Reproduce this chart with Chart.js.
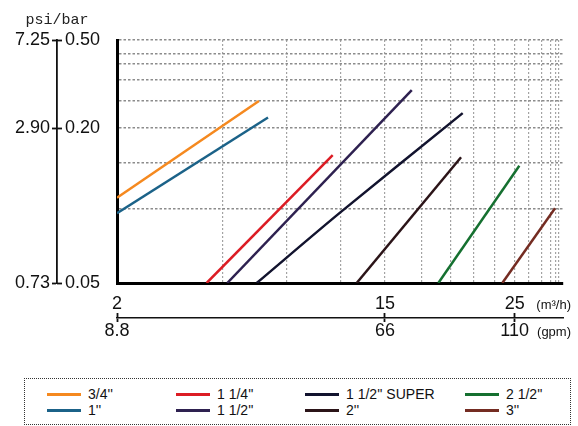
<!DOCTYPE html>
<html>
<head>
<meta charset="utf-8">
<script src="https://cdn.jsdelivr.net/npm/chart.js"></script>
<style>
  html, body { margin: 0; padding: 0; background: #ffffff; }
  #wrap { position: absolute; left: 0; top: 0; width: 578px; height: 372px; }
  #legend {
    position: absolute; left: 24px; top: 378px; width: 547px;
    border: 1.5px dotted #333;
    display: grid; grid-template-rows: 16px 16px; grid-auto-flow: column;
    grid-template-columns: 129px 129px 160px 1fr;
    padding: 7px 0 0 22px; box-sizing: border-box; height: 47px;
    font-family: "Liberation Sans", Arial, sans-serif; font-size: 14px; color: #111;
  }
  #legend .item { display: flex; align-items: center; white-space: nowrap; }
  #legend .sw { display: inline-block; width: 34px; height: 3px; margin-right: 7px; }
</style>
</head>
<body>
<div id="wrap"><canvas id="c"></canvas></div>
<div id="legend"></div>
<script>
// ---- data (flow in m³/h, pressure loss in bar) ----
const sizeNames = ["3/4''", "1''", "1 1/4''", "1 1/2''", "1 1/2'' SUPER", "2''", "2 1/2''", "3''"];
const sizeColors = ["#f5891f", "#1b6288", "#dc1c24", "#2e2150", "#12132e", "#2b1418", "#157030", "#742c22"];

const flow34 = [2, 7.54];        const loss34 = [0.104, 0.262];
const flow1 = [2, 8.0];          const loss1 = [0.0905, 0.222];
const flow114 = [5.13, 11.63];   const loss114 = [0.05, 0.154];
const flow112 = [6.03, 16.88];   const loss112 = [0.05, 0.293];
const flowSuper = [7.43, 12.08, 20.72]; const lossSuper = [0.05, 0.091, 0.232];
const flow2 = [13.13, 20.59];    const loss2 = [0.05, 0.151];
const flow212 = [18.84, 25.40];  const loss212 = [0.05, 0.1395];
const flow3 = [23.95, 28.57];    const loss3 = [0.05, 0.0946];

const seriesFlow = [flow34, flow1, flow114, flow112, flowSuper, flow2, flow212, flow3];
const seriesLoss = [loss34, loss1, loss114, loss112, lossSuper, loss2, loss212, loss3];

// ---- ticks / grid ----
const flowTicks = [2, 15, 25];
const gpmTicks = [8.8, 66, 110];
const barTicks = [0.05, 0.2, 0.5];
const barLabels = ["0.05", "0.20", "0.50"];
const psiTicks = [0.725, 2.9, 7.25];
const psiLabels = ["0.73", "2.90", "7.25"];
const gridFlow = [5.8, 9.0, 12.1, 15, 17.6, 19.8, 21.6, 23.3, 25, 26.2, 27.4, 28.2, 28.65, 28.9];
const gridLoss = [0.094, 0.143, 0.2, 0.263, 0.325, 0.388, 0.432, 0.5];
const flowRange = [2, 29.3];
const lossRange = [0.05, 0.5];
const unitFlow = "(m\u00b3/h)";
const unitGpm = "(gpm)";
const yTitle = "psi/bar";

// ---- power scale (chart's nonlinear axes) ----
class PowScale extends Chart.LinearScale {
  _t(v) { const p = this.options.exponent; return p === 0 ? Math.log(v) : (p > 0 ? Math.pow(v, p) : -Math.pow(v, p)); }
  _ti(t) { const p = this.options.exponent; return p === 0 ? Math.exp(t) : (p > 0 ? Math.pow(t, 1 / p) : Math.pow(-t, 1 / p)); }
  getPixelForValue(value) {
    if (value === null || value === undefined || isNaN(value)) return NaN;
    const a = this._t(this.min), b = this._t(this.max);
    return this.getPixelForDecimal((this._t(value) - a) / (b - a));
  }
  getValueForPixel(pixel) {
    const a = this._t(this.min), b = this._t(this.max);
    return this._ti(a + this.getDecimalForPixel(pixel) * (b - a));
  }
}
PowScale.id = 'pow';
PowScale.defaults = {};
Chart.register(PowScale);

Chart.defaults.font.family = '"Liberation Sans", Arial, sans-serif';
Chart.defaults.color = '#111';

const XP = 0.55, YP = -0.13, GPM = 4.4;
const setTicks = vals => scale => { scale.ticks = vals.map(v => ({ value: v })); };
const fixW = w => scale => { scale.width = w; };
const fixH = h => scale => { scale.height = h; };

const datasets = sizeNames.map((name, i) => ({
  label: name,
  data: seriesFlow[i].map((x, j) => ({ x: x, y: seriesLoss[i][j] })),
  borderColor: sizeColors[i],
  backgroundColor: sizeColors[i],
  borderWidth: 2.5,
  pointRadius: 0,
  fill: false,
  tension: seriesFlow[i].length > 2 ? 0.3 : 0,
  xAxisID: 'x', yAxisID: 'y'
}));

const unitsPlugin = {
  id: 'units',
  afterDraw(chart) {
    const ctx = chart.ctx, xm = chart.scales.xm, xg = chart.scales.xg, psi = chart.scales.psi;
    ctx.save();
    ctx.fillStyle = '#111';
    ctx.textBaseline = 'middle';
    ctx.font = '13px "Liberation Sans", Arial, sans-serif';
    ctx.textAlign = 'right';
    ctx.fillText(unitFlow, chart.width - 7, xm.top + 22);
    ctx.fillText(unitGpm, chart.width - 7, xg.top + 14);
    ctx.font = '15px "Liberation Mono", monospace';
    ctx.fillStyle = '#222';
    ctx.textAlign = 'center';
    ctx.fillText(yTitle, psi.right, psi.top - 20);
    ctx.restore();
  }
};

const labelFont = { size: 18, lineHeight: 1 };

const chart = new Chart(document.getElementById('c'), {
  type: 'line',
  data: { datasets: datasets },
  plugins: [unitsPlugin],
  options: {
    responsive: true,
    maintainAspectRatio: false,
    animation: false,
    layout: { padding: { left: 0, right: 15, top: 40, bottom: 24 } },
    plugins: {
      legend: { display: false },
      tooltip: { enabled: false },
      title: { display: false }
    },
    scales: {
      x: {
        type: 'pow', exponent: XP, position: 'bottom', weight: 0,
        min: flowRange[0], max: flowRange[1],
        afterBuildTicks: setTicks(gridFlow),
        afterFit: fixH(0),
        ticks: { display: false },
        grid: { color: '#a3a3a3', lineWidth: 1.2, drawTicks: false },
        border: { display: true, color: '#000', width: 3, dash: [2, 2] }
      },
      xm: {
        type: 'pow', exponent: XP, position: 'bottom', weight: 1,
        min: flowRange[0], max: flowRange[1],
        afterBuildTicks: setTicks(flowTicks),
        afterFit: fixH(35),
        ticks: { padding: -23, font: labelFont, color: '#111', maxRotation: 0, autoSkip: false,
                 callback: (v, i) => String(flowTicks[i]) },
        grid: { display: true, drawOnChartArea: false, drawTicks: true, tickLength: 35,
                tickColor: '#111', tickWidth: 1.8, tickBorderDash: [0, 30, 5, 100] },
        border: { display: false }
      },
      xg: {
        type: 'pow', exponent: XP, position: 'bottom', weight: 2,
        min: flowRange[0] * GPM, max: flowRange[1] * GPM,
        afterBuildTicks: setTicks(gpmTicks),
        afterFit: fixH(30),
        ticks: { padding: 0, font: labelFont, color: '#111', maxRotation: 0, autoSkip: false,
                 callback: (v, i) => String(gpmTicks[i]) },
        grid: { display: true, drawOnChartArea: false, drawTicks: true, tickLength: 4, tickColor: '#111', tickWidth: 1.8 },
        border: { display: true, color: '#111', width: 1.6 }
      },
      y: {
        type: 'pow', exponent: YP, position: 'left', weight: 0,
        min: lossRange[0], max: lossRange[1],
        afterBuildTicks: setTicks(gridLoss),
        afterFit: fixW(60),
        ticks: { display: false },
        grid: { color: '#8c8c8c', lineWidth: 1.5, drawTicks: false },
        border: { display: true, color: '#000', width: 3, dash: [2.5, 2] }
      },
      bar: {
        type: 'pow', exponent: YP, position: 'left', weight: 1,
        min: lossRange[0], max: lossRange[1],
        afterBuildTicks: setTicks(barTicks),
        afterFit: fixW(0),
        ticks: { mirror: true, padding: 8, font: labelFont, color: '#111', autoSkip: false,
                 callback: (v, i) => barLabels[i] },
        grid: { display: true, drawOnChartArea: false, drawTicks: true, tickLength: -5, tickColor: '#111', tickWidth: 1.8 },
        border: { display: false }
      },
      psi: {
        type: 'pow', exponent: YP, position: 'left', weight: 2,
        min: psiTicks[0], max: psiTicks[2],
        afterBuildTicks: setTicks(psiTicks),
        afterFit: fixW(57),
        ticks: { padding: 2, font: labelFont, color: '#111', autoSkip: false,
                 callback: (v, i) => psiLabels[i] },
        grid: { display: true, drawOnChartArea: false, drawTicks: true, tickLength: 5, tickColor: '#111', tickWidth: 1.8 },
        border: { display: true, color: '#111', width: 1.8 }
      }
    }
  }
});

// ---- HTML legend built from the chart's datasets ----
const legendEl = document.getElementById('legend');
chart.data.datasets.forEach(ds => {
  const item = document.createElement('div');
  item.className = 'item';
  const sw = document.createElement('span');
  sw.className = 'sw';
  sw.style.background = ds.borderColor;
  const tx = document.createElement('span');
  tx.textContent = ds.label;
  item.appendChild(sw);
  item.appendChild(tx);
  legendEl.appendChild(item);
});
</script>
</body>
</html>
